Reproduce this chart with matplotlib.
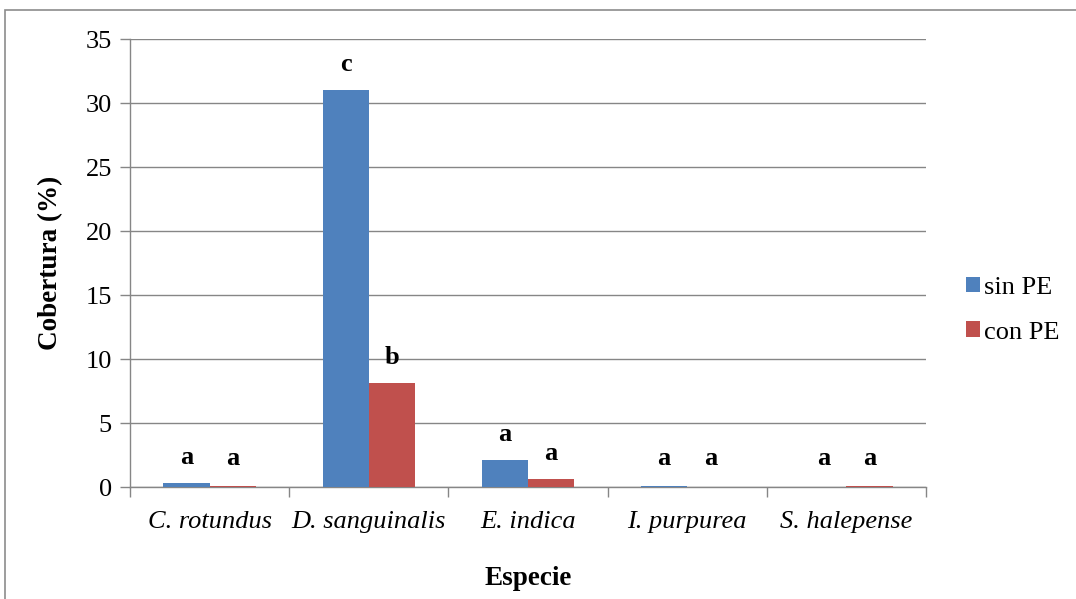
import numpy as np
import matplotlib.pyplot as plt
from matplotlib.patches import Rectangle

especies = ["C. rotundus", "D. sanguinalis", "E. indica", "I. purpurea", "S. halepense"]
sin_pe = [0.3, 31.0, 2.1, 0.05, 0.0]
con_pe = [0.05, 8.1, 0.6, 0.0, 0.05]
letras_sin = ["a", "c", "a", "a", "a"]
letras_con = ["a", "b", "a", "a", "a"]

plt.rcParams['font.family'] = ['Liberation Serif', 'DejaVu Serif']

fig = plt.figure(figsize=(10.76, 5.99), dpi=100)
ax = fig.add_axes([130/1076, 1-487/599, (926-130)/1076, (487-39)/599])

# outer chart border (cut by the image edges)
fig.patches.append(Rectangle((5/1076, -0.1), 1.2, 1-10/599+0.1, transform=fig.transFigure,
                             fill=False, edgecolor="#8c8c8c", linewidth=1.2))

x = np.arange(len(especies))
w = 0.29
ax.bar(x - w/2, sin_pe, w, color="#4f81bd", label="sin PE", zorder=3)
ax.bar(x + w/2, con_pe, w, color="#c0504d", label="con PE", zorder=3)

for i in range(len(especies)):
    ax.text(x[i] - w/2, max(sin_pe[i], 0.2) + 2.0, letras_sin[i], ha="center", va="center",
            fontsize=19, fontweight="bold")
    ax.text(x[i] + w/2, max(con_pe[i], 0.2) + 2.0, letras_con[i], ha="center", va="center",
            fontsize=19, fontweight="bold")

ax.set_ylim(0, 35)
ax.set_xlim(-0.5, len(especies) - 0.5)
ax.set_yticks(range(0, 36, 5))
ax.yaxis.grid(True, color="#868686", linewidth=1.0, zorder=0)
ax.set_xticks(x)
ax.set_xticklabels(especies, fontstyle="italic", fontsize=19)
ax.tick_params(axis="x", length=0, pad=17)
ax.set_xticks(np.arange(-0.5, len(especies)), minor=True)
ax.tick_params(axis="x", which="minor", length=7, color="#868686", width=1.0)
ax.tick_params(axis="y", labelsize=19, length=7, color="#868686", width=1.0, pad=6)

for s in ["top", "right"]:
    ax.spines[s].set_visible(False)
for s in ["left", "bottom"]:
    ax.spines[s].set_color("#868686")
    ax.spines[s].set_linewidth(1.0)

ax.set_ylabel("Cobertura (%)", fontsize=19.5, fontweight="bold", labelpad=16)
ax.set_xlabel("Especie", fontsize=19.5, fontweight="bold", labelpad=24)

ax.legend(loc="center left", bbox_to_anchor=(1.02, 0.395), frameon=False, fontsize=19,
          handlelength=0.55, handleheight=0.55, handletextpad=0.15, labelspacing=0.85)

fig.savefig("out.png", dpi=100)
